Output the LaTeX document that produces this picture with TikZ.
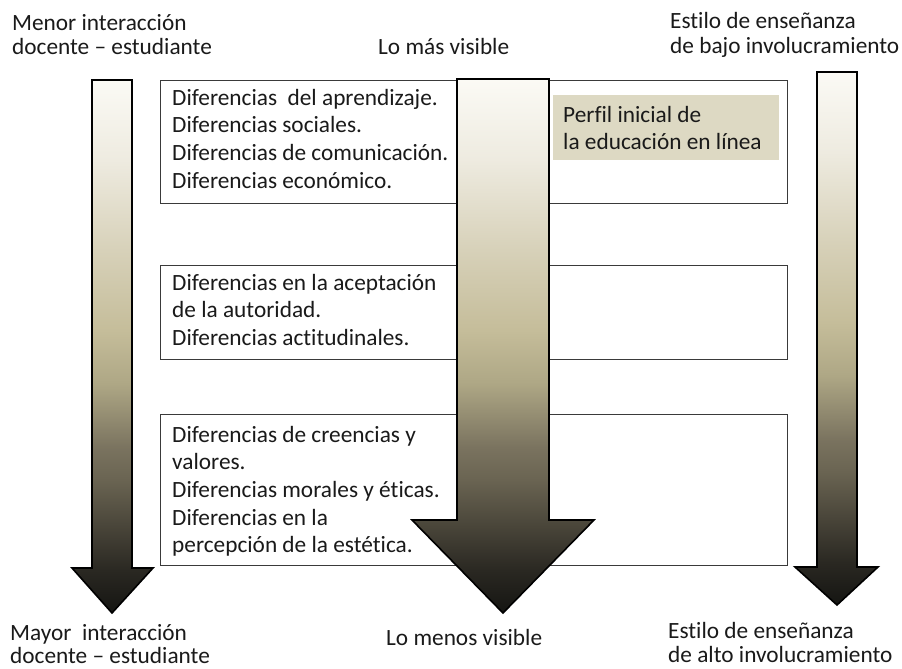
\documentclass[tikz,border=0pt]{standalone}
\usepackage{fontspec}
\setmainfont[Ligatures=NoCommon]{Carlito}
\definecolor{c0}{HTML}{151512}
\definecolor{c1}{HTML}{2A2822}
\definecolor{c2}{HTML}{6A6452}
\definecolor{c3}{HTML}{7A735F}
\definecolor{c4}{HTML}{AEA785}
\definecolor{c5}{HTML}{C5BD9A}
\definecolor{c6}{HTML}{D7D1B9}
\definecolor{c7}{HTML}{EEEBE0}
\definecolor{c8}{HTML}{FBFAF5}
\definecolor{beige}{HTML}{DDD9C3}
\definecolor{boxline}{HTML}{3A3A3A}
\definecolor{textc}{HTML}{1A1A1A}
\pgfdeclareverticalshading{tanshade}{100bp}{color(0bp)=(c0); color(25bp)=(c0); color(29bp)=(c1); color(37.5bp)=(c2); color(40.5bp)=(c3); color(46.5bp)=(c4); color(51.5bp)=(c5); color(59bp)=(c6); color(67.5bp)=(c7); color(75bp)=(c8); color(100bp)=(c8)}
\begin{document}
\begin{tikzpicture}[x=1pt,y=-1pt,
  boxnode/.style={draw=boxline, line width=1.1pt, fill=white, inner sep=0pt, anchor=north west},
  tanbox/.style={fill=beige, inner sep=0pt, anchor=north west},
  bigarrow/.style={draw=black, line width=1.6pt, shading=tanshade, line join=miter},
  txt/.style={anchor=base west, inner sep=0pt, font=\fontsize{23.3pt}{27.7pt}\selectfont, text=textc}]
\fill[white] (0,0) rectangle (902,669);
\useasboundingbox (0,0) rectangle (902,669);

% boxes
\node[boxnode, minimum width=627pt, minimum height=123pt] (b1) at (160,80) {};
\node[boxnode, minimum width=627pt, minimum height=94pt] (b2) at (160,265) {};
\node[boxnode, minimum width=627pt, minimum height=151pt] (b3) at (160,414) {};
\node[tanbox, minimum width=226pt, minimum height=65pt] (tb) at (553,95) {};

% arrows
\shade[bigarrow] (92,80) -- (132,80) -- (132,568) -- (153,568) -- (112,613) -- (72,568) -- (92,568) -- cycle;
\shade[bigarrow] (457,79) -- (549,79) -- (549,520) -- (594,520) -- (503,613) -- (412,520) -- (457,520) -- cycle;
\shade[bigarrow] (817,72) -- (857,72) -- (857,567) -- (878,567) -- (837,605) -- (795,567) -- (817,567) -- cycle;

% box texts
\foreach \t [count=\i from 0] in {{Diferencias\ \ del aprendizaje.},{Diferencias sociales.},{Diferencias de comunicación.},{Diferencias económico.}}
  \node[txt] (ta\i) at (172,105+27.7*\i) {\t};
\foreach \t [count=\i from 0] in {{Diferencias en la aceptación},{de la autoridad.},{Diferencias actitudinales.}}
  \node[txt] (tbx\i) at (172,290+27.7*\i) {\t};
\foreach \t [count=\i from 0] in {{Diferencias de creencias y},{valores.},{Diferencias morales y éticas.},{Diferencias en la},{percepción de la estética.}}
  \node[txt] (tc\i) at (172,442+27.7*\i) {\t};
\node[txt] (p1) at (563,122) {Perfil inicial de};
\node[txt] (p2) at (563,149) {la educación en línea};

% header / footer labels
\node[txt] (h1) at (12,31) {Menor interacción};
\node[txt] (h2) at (12,55) {docente – estudiante};
\node[txt] (h3) at (378,55) {Lo más visible};
\node[txt] (h4) at (670,29) {Estilo de enseñanza};
\node[txt] (h5) at (670,53) {de bajo involucramiento};
\node[txt] (f1) at (10,640) {Mayor\ \ interacción};
\node[txt] (f2) at (10,663) {docente – estudiante};
\node[txt] (f3) at (386,645) {Lo menos visible};
\node[txt] (f4) at (668,638) {Estilo de enseñanza};
\node[txt] (f5) at (668,662) {de alto involucramiento};
\end{tikzpicture}
\end{document}
